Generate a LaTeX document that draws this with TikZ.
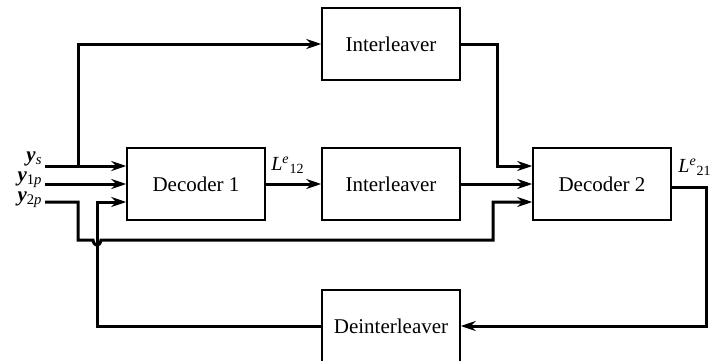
\documentclass[tikz,border=0pt]{standalone}
\usepackage{fontspec}
\setmainfont{Liberation Serif}
\usepackage{tikz}
\usetikzlibrary{arrows.meta,positioning,calc}

\begin{document}
\begin{tikzpicture}[
    x=0.5pt, y=-0.5pt,
    blk/.style={rectangle, draw, line width=0.75pt, minimum width=69pt,
                minimum height=36pt, inner sep=0pt, font=\fontsize{10.5}{12}\selectfont},
    wire/.style={line width=1.5pt},
    feed/.style={wire, -{Stealth[length=7.5pt, width=5pt, inset=2.4pt]}},
    inlbl/.style={anchor=east, inner sep=0pt, font=\fontsize{10.5}{10}\selectfont},
]
\clip (0,0) rectangle (724,360);

% blocks
\node[blk] (intA) at (391,44) {Interleaver};
\node[blk] (dec1) at (196,184) {Decoder 1};
\node[blk] (intB) at (391,184) {Interleaver};
\node[blk] (dec2) at (602,184) {Decoder 2};
\node[blk] (deint) at (391,326) {Deinterleaver};

% inputs
\node[inlbl] (ys) at (43,159) {\textbf{\textit{y}}\textsubscript{\textit{s}}};
\node[inlbl] (y1) at (43,180) {\textbf{\textit{y}}\textsubscript{1\textit{p}}};
\node[inlbl] (y2) at (43,200) {\textbf{\textit{y}}\textsubscript{2\textit{p}}};

% ports
\coordinate (d1a) at ($(dec1.west)+(0,-18)$);
\coordinate (d1c) at ($(dec1.west)+(0,18)$);
\coordinate (d2a) at ($(dec2.west)+(0,-18)$);
\coordinate (d2c) at ($(dec2.west)+(0,18)$);
\coordinate (d2o) at ($(dec2.east)+(0,3)$);

\draw[feed] (45,166) -- (d1a);
\draw[feed] (45,184) -- (dec1.west);
\draw[feed] (78,166) |- (intA.west);

% y2p around to decoder 2 (hops over feedback)
\draw[feed] (45,202) -| (78,240) -- (93,240)
    .. controls (94,247) and (100,247) .. (101,240) -- (493,240) |- (d2c);

% main path
\draw[feed] (dec1.east) -- node[above, pos=0.4, yshift=1pt] {\textit{L}\textsuperscript{\textit{e}}\textsubscript{12}} (intB.west);
\draw[feed] (intB.east) -- (dec2.west);
\draw[feed] (intA.east) -| (497,166) -- (d2a);

% feedback
\node[anchor=south west, inner sep=1pt] (l21) at (676,178) {\textit{L}\textsuperscript{\textit{e}}\textsubscript{21}};
\draw[feed] (d2o) -| (706,326) -- (deint.east);
\draw[feed] (deint.west) -| (97,202) -- (d1c);

\end{tikzpicture}
\end{document}
